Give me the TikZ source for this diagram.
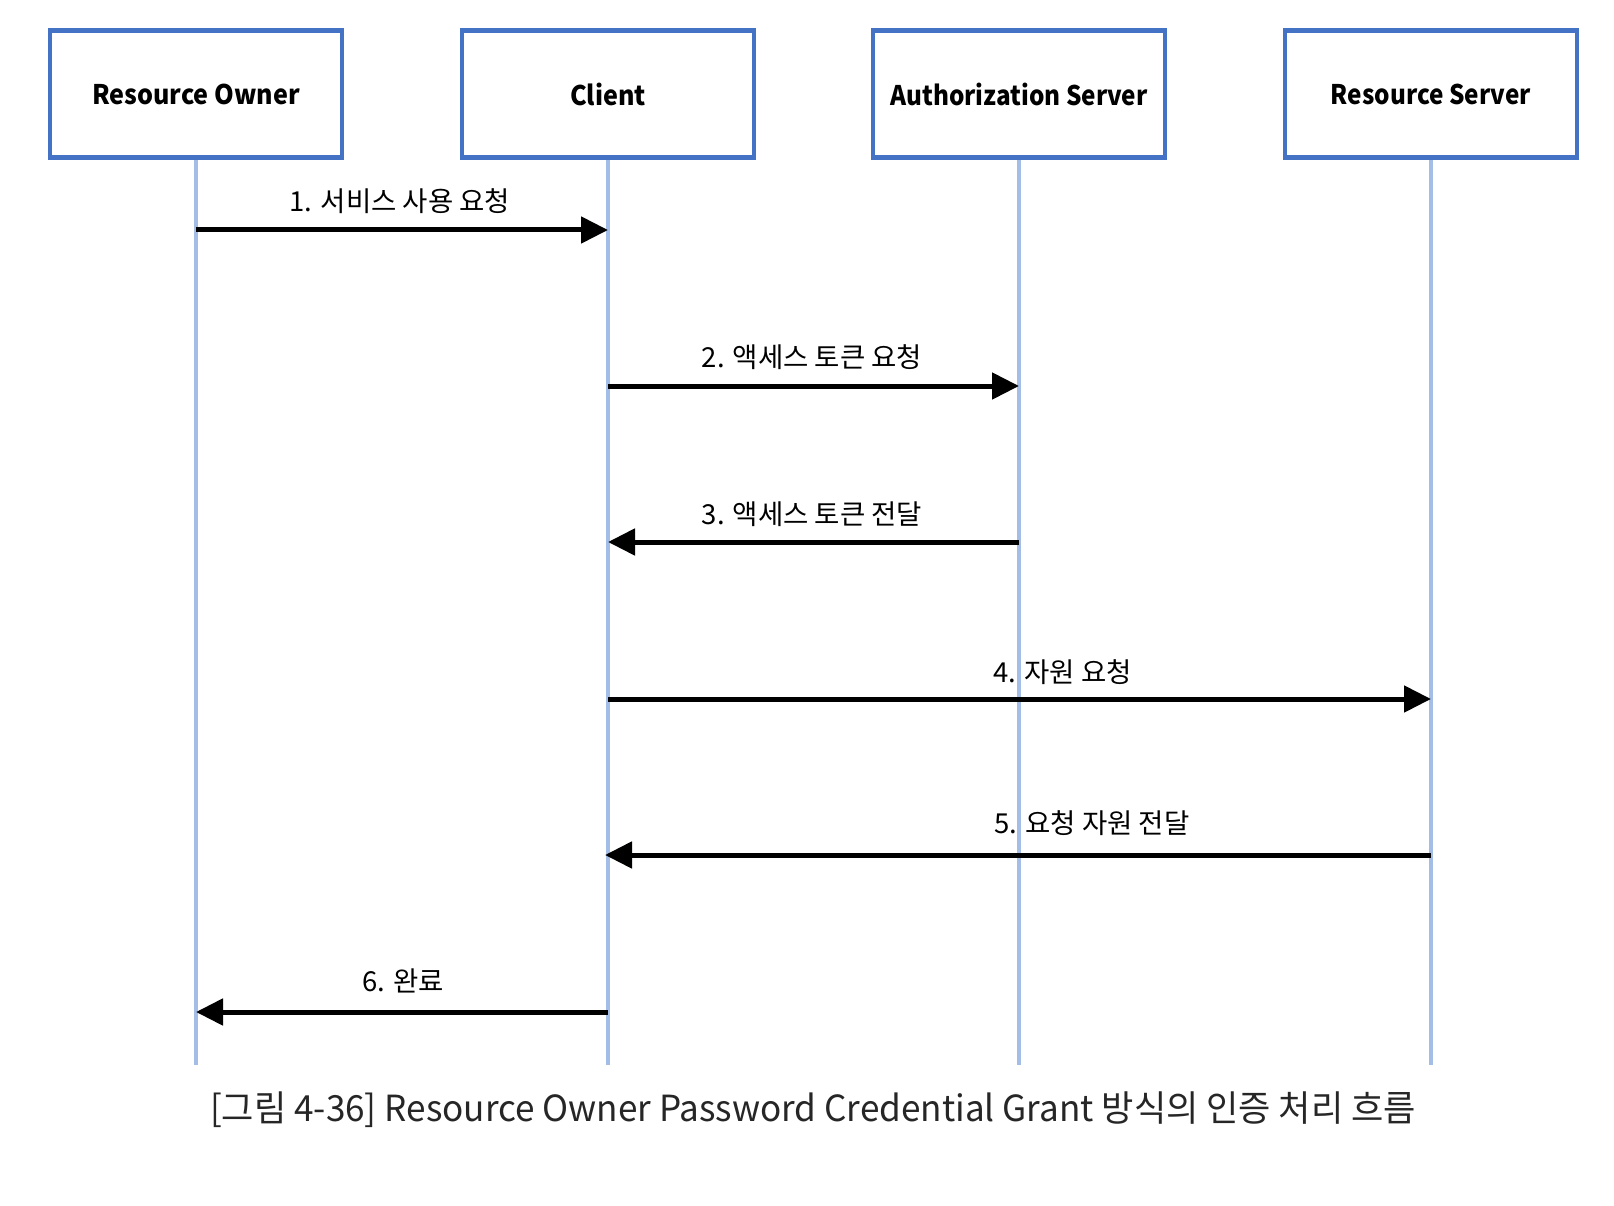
\documentclass[tikz,border=0pt]{standalone}
\usepackage{fontspec}
\usepackage{graphicx}
\setmainfont{Noto Sans CJK KR}
\usetikzlibrary{arrows.meta,calc}
\definecolor{boxblue}{HTML}{4472C4}
\definecolor{lifeblue}{HTML}{A4BDE7}
\newcommand{\narrowtxt}[2]{\scalebox{#1}[1]{#2}}
\begin{document}
\begin{tikzpicture}[x=1pt,y=-1pt,
  actor/.style={draw=boxblue, line width=4.2pt, fill=white, minimum width=292pt, minimum height=127pt, font=\bfseries\fontsize{27}{32}\selectfont, inner sep=0pt},
  life/.style={draw=lifeblue, line width=3.5pt},
  msg/.style={line width=5pt, -{Triangle[length=27pt,width=26pt]}},
  lbl/.style={font=\fontsize{27.5}{32}\selectfont, inner sep=0pt},
  capt/.style={font=\fontsize{36}{42}\selectfont, text=black!85, inner sep=0pt}]
\useasboundingbox (0,0) rectangle (1614,1206);
% lifeline ends
\coordinate (roE) at (196,1065);
\coordinate (clE) at (608,1065);
\coordinate (asE) at (1019,1065);
\coordinate (rsE) at (1431,1065);
% lifelines
\draw[life] (196,150) -- (roE);
\draw[life] (608,150) -- (clE);
\draw[life] (1019,150) -- (asE);
\draw[life] (1431,150) -- (rsE);
% actors
\node[actor] (ro) at (196,94) {\narrowtxt{0.93}{Resource Owner}};
\node[actor] (cl) at (608,94) {\narrowtxt{0.93}{Client}};
\node[actor] (as) at (1019,94) {\narrowtxt{0.9}{Authorization Server}};
\node[actor] (rs) at (1431,94) {\narrowtxt{0.9}{Resource Server}};
% message levels
\coordinate (y1) at (0,230);
\coordinate (y2) at (0,386);
\coordinate (y3) at (0,542);
\coordinate (y4) at (0,699);
\coordinate (y5) at (0,855);
\coordinate (y6) at (0,1012);
% messages
\draw[msg] (ro |- y1) -- (cl |- y1);
\draw[msg] (cl |- y2) -- (as |- y2);
\draw[msg] (as |- y3) -- (cl |- y3);
\draw[msg] (cl |- y4) -- (rs |- y4);
\draw[msg] (rs |- y5) -- ([xshift=-3pt]cl |- y5);
\draw[msg] (cl |- y6) -- (ro |- y6);
% labels
\node[lbl] (l1) at (400,201) {1. 서비스 사용 요청};
\node[lbl] (l2) at (812,357) {2. 액세스 토큰 요청};
\node[lbl] (l3) at (812,514) {3. 액세스 토큰 전달};
\node[lbl, anchor=west] (l4) at (993,672) {4. 자원 요청};
\node[lbl, anchor=west] (l5) at (994,823) {5. 요청 자원 전달};
\node[lbl] (l6) at (403,981) {6. 완료};
% caption
\node[capt] (cap) at (813,1110) {\narrowtxt{0.975}{[그림 4-36] Resource Owner Password Credential Grant 방식의 인증 처리 흐름}};
\end{tikzpicture}
\end{document}
